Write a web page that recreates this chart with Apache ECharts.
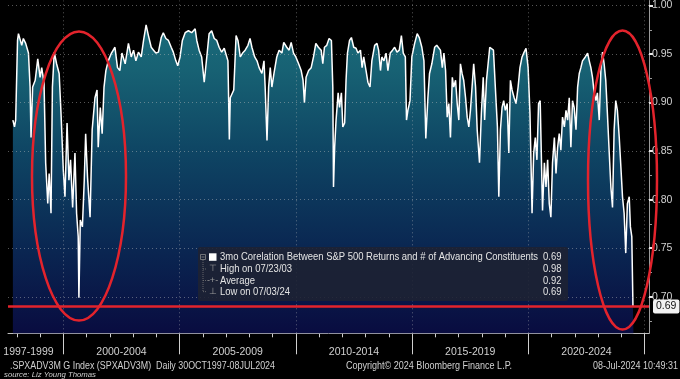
<!DOCTYPE html>
<html><head><meta charset="utf-8">
<script src="https://cdn.jsdelivr.net/npm/echarts@6/dist/echarts.min.js"></script>
<style>html,body{margin:0;padding:0;background:#000;}#c{width:680px;height:379px;}</style>
</head><body><div id="c"></div>
<script>
// ---- data (decimal years, correlation values) ----
const years = [
1997.83,1997.90,1997.95,1998.03,1998.07,1998.21,1998.28,1998.38,1998.50,1998.57,1998.61,1998.68,1998.79,1998.90,1999.00,1999.07,1999.17,1999.24,1999.33,1999.39,1999.47,1999.53,1999.61,1999.71,1999.82,1999.90,2000.00,2000.07,2000.16,2000.24,2000.31,2000.40,2000.50,2000.57,2000.64,2000.67,2000.73,2000.82,2000.90,2000.96,2001.04,2001.15,2001.24,2001.36,2001.45,2001.50,2001.59,2001.67,2001.75,2001.83,2001.93,2002.07,2002.22,2002.33,
2002.43,2002.52,2002.66,2002.80,2002.92,2003.02,2003.12,2003.23,2003.35,2003.45,2003.56,2003.66,2003.78,2003.88,2003.98,2004.09,2004.21,2004.30,2004.41,2004.52,2004.64,2004.73,2004.84,2004.92,2005.02,2005.12,2005.24,2005.38,2005.52,2005.67,2005.74,2005.84,2005.95,2006.06,2006.17,2006.27,2006.38,2006.49,2006.60,2006.70,2006.81,2006.92,
2006.97,2007.08,2007.14,2007.18,2007.25,2007.33,2007.43,2007.51,2007.61,2007.71,2007.82,2007.94,2008.03,2008.11,2008.23,2008.33,2008.42,2008.54,2008.63,2008.68,2008.76,2008.83,2008.90,2008.97,2009.06,2009.18,2009.28,2009.40,2009.48,2009.61,2009.71,2009.80,2009.90,2010.00,2010.12,2010.23,2010.31,2010.37,2010.44,2010.55,2010.66,2010.76,2010.86,2010.97,2011.09,2011.16,2011.23,2011.33,2011.43,2011.53,
2011.59,2011.62,2011.67,2011.73,2011.82,2011.88,2011.96,2012.02,2012.10,2012.16,2012.22,2012.31,2012.39,2012.49,2012.59,2012.67,2012.78,2012.85,2012.92,2013.02,2013.10,2013.19,2013.27,2013.39,2013.49,2013.56,2013.64,2013.70,2013.79,2013.88,2013.96,2014.06,2014.16,2014.25,2014.35,2014.45,2014.54,2014.62,2014.71,2014.76,2014.82,2014.91,2014.99,2015.11,2015.22,2015.31,2015.42,2015.51,2015.59,2015.68,2015.75,2015.85,2015.97,2016.06,
2016.12,2016.22,2016.30,2016.37,2016.44,2016.51,2016.58,2016.65,2016.73,2016.79,2016.87,2016.94,2017.01,2017.08,2017.15,2017.22,2017.30,2017.37,2017.44,2017.51,2017.58,2017.65,2017.73,2017.80,2017.90,2017.98,2018.06,2018.12,2018.20,2018.27,2018.34,2018.41,2018.50,2018.58,2018.67,2018.73,2018.80,2018.87,2018.94,2019.01,2019.09,2019.16,2019.23,2019.30,2019.39,2019.47,2019.56,2019.64,2019.73,2019.82,2019.90,2019.99,2020.07,2020.16,2020.23,2020.30,2020.37,2020.44,2020.51,
2020.61,2020.69,2020.76,2020.83,2020.90,2020.97,2021.04,2021.12,2021.19,2021.26,2021.33,2021.40,2021.47,2021.55,2021.62,2021.69,2021.76,2021.83,2021.90,2021.97,2022.05,2022.12,2022.19,2022.26,2022.33,2022.45,2022.55,2022.62,2022.69,2022.76,2022.83,2022.91,2022.97,2023.05,2023.12,2023.19,2023.26,2023.33,2023.40,2023.48,2023.55,2023.62,2023.69,2023.76,2023.83,2023.91,2023.98,2024.05,2024.12,2024.19,2024.26,2024.34,2024.39,2024.45,2024.50,2024.52
];
const corr = [
0.882,0.875,0.882,0.964,0.971,0.959,0.966,0.961,0.951,0.916,0.864,0.916,0.923,0.945,0.926,0.936,0.920,0.838,0.796,0.827,0.786,0.916,0.952,0.940,0.930,0.889,0.830,0.803,0.879,0.820,0.841,0.792,0.848,0.786,0.762,0.699,0.779,0.772,0.820,0.868,0.823,0.782,0.872,0.905,0.913,0.854,0.895,0.868,0.916,0.933,0.943,0.951,0.957,0.936,
0.933,0.951,0.940,0.961,0.947,0.954,0.943,0.952,0.947,0.964,0.980,0.969,0.957,0.954,0.951,0.952,0.967,0.972,0.966,0.964,0.957,0.952,0.943,0.938,0.947,0.964,0.972,0.974,0.972,0.976,0.964,0.954,0.947,0.921,0.947,0.971,0.974,0.966,0.964,0.957,0.952,0.956,
0.954,0.943,0.862,0.905,0.905,0.913,0.969,0.964,0.947,0.951,0.954,0.959,0.966,0.957,0.947,0.943,0.936,0.930,0.943,0.916,0.861,0.916,0.936,0.916,0.930,0.947,0.954,0.951,0.962,0.957,0.954,0.962,0.951,0.947,0.940,0.933,0.923,0.900,0.926,0.933,0.936,0.947,0.961,0.957,0.954,0.940,0.957,0.959,0.966,0.964,
0.916,0.813,0.854,0.882,0.910,0.895,0.910,0.875,0.879,0.923,0.951,0.964,0.967,0.957,0.956,0.951,0.954,0.936,0.947,0.933,0.921,0.916,0.943,0.959,0.961,0.954,0.933,0.947,0.943,0.951,0.933,0.951,0.954,0.957,0.952,0.954,0.969,0.951,0.947,0.882,0.892,0.902,0.947,0.961,0.971,0.967,0.957,0.943,0.863,0.905,0.930,0.940,0.957,0.959,
0.961,0.954,0.936,0.951,0.933,0.885,0.899,0.864,0.926,0.916,0.923,0.899,0.882,0.940,0.930,0.923,0.905,0.885,0.875,0.892,0.916,0.940,0.916,0.872,0.838,0.889,0.926,0.882,0.923,0.940,0.957,0.959,0.954,0.916,0.875,0.803,0.872,0.895,0.902,0.892,0.899,0.848,0.923,0.913,0.905,0.899,0.916,0.936,0.947,0.952,0.956,0.936,0.889,0.786,0.848,0.864,0.841,0.899,0.902,
0.789,0.838,0.813,0.841,0.796,0.782,0.838,0.864,0.827,0.854,0.868,0.851,0.885,0.875,0.892,0.882,0.905,0.854,0.902,0.895,0.872,0.916,0.930,0.936,0.943,0.947,0.951,0.943,0.936,0.926,0.910,0.902,0.910,0.882,0.933,0.952,0.940,0.923,0.889,0.848,0.813,0.792,0.872,0.902,0.892,0.864,0.834,0.803,0.786,0.745,0.796,0.803,0.772,0.762,0.690,0.690
];
const lastValue = 0.69;
const rangeLabels = ['1997-1999','2000-2004','2005-2009','2010-2014','2015-2019','2020-2024'];
const rangeMids = [1998.5, 2002.5, 2007.5, 2012.5, 2017.5, 2022.5];
const rangeBounds = [2000, 2005, 2010, 2015, 2020, 2025];
const yearTicks = [1998,1999,2000,2001,2002,2003,2004,2005,2006,2007,2008,2009,2010,2011,2012,2013,2014,2015,2016,2017,2018,2019,2020,2021,2022,2023,2024,2025];
const yTicks = [0.70, 0.75, 0.80, 0.85, 0.90, 0.95, 1.00];
const yMinor = [0.675, 0.725, 0.775, 0.825, 0.875, 0.925, 0.975];
const legendLabels = ['3mo Corelation Between S&P 500 Returns and # of Advancing Constituents', 'High on 07/23/03', 'Average', 'Low on 07/03/24'];
const legendValues = ['0.69', '0.98', '0.92', '0.69'];

const FONT = "'Liberation Sans', Arial, sans-serif";
const XMIN = 1997.62, XMAX = 2025.19, YMIN = 0.6624, YMAX = 1.0051;

const mctx = document.createElement('canvas').getContext('2d');
function fitScale(text, font, targetW) { mctx.font = font; return targetW / mctx.measureText(text).width; }

const chart = echarts.init(document.getElementById('c'), null, {renderer: 'canvas'});
const seriesData = years.map((y, i) => [y, corr[i]]);

const legendRowY = [257.3, 269, 280.5, 291.7];
const LFONT = '11px ' + FONT;
const legScale = fitScale(legendLabels[0], LFONT, 318);
const graphics = [];
graphics.push({type: 'rect', z: 50, shape: {x: 198, y: 247, width: 370, height: 54, r: 2}, style: {fill: 'rgba(30,34,50,0.88)'}});
graphics.push({type: 'rect', z: 51, shape: {x: 209, y: 253.3, width: 7.5, height: 7.5}, style: {fill: '#ffffff'}});
graphics.push({type: 'rect', z: 51, shape: {x: 200.5, y: 254.5, width: 5, height: 5}, style: {fill: 'none', stroke: '#888', lineWidth: 0.8}});
graphics.push({type: 'line', z: 51, shape: {x1: 201.5, y1: 257, x2: 204.5, y2: 257}, style: {stroke: '#888', lineWidth: 0.8}});
graphics.push({type: 'line', z: 51, shape: {x1: 203, y1: 260, x2: 203, y2: 292}, style: {stroke: '#777', lineWidth: 0.8, lineDash: [1, 1]}});
[269, 280.5, 291.7].forEach(y => {
  graphics.push({type: 'line', z: 51, shape: {x1: 203, y1: y, x2: 207, y2: y}, style: {stroke: '#777', lineWidth: 0.8, lineDash: [1, 1]}});
});
const glyphs = ['⊤', '-+-', '⊥'];
glyphs.forEach((g, i) => {
  graphics.push({type: 'text', z: 51, style: {text: g, x: 212.5, y: legendRowY[i + 1], fill: '#9a9a9a', font: '9px ' + FONT, textAlign: 'center', textVerticalAlign: 'middle'}});
});
legendLabels.forEach((t, i) => {
  graphics.push({type: 'text', z: 51, x: 220, y: legendRowY[i], scaleX: legScale, style: {text: t, x: 0, y: 0, fill: '#e4e4e4', font: LFONT, textAlign: 'left', textVerticalAlign: 'middle'}});
  graphics.push({type: 'text', z: 51, x: 561.5, y: legendRowY[i], scaleX: legScale, style: {text: legendValues[i], x: 0, y: 0, fill: '#e4e4e4', font: LFONT, textAlign: 'right', textVerticalAlign: 'middle'}});
});
// footer
const FFONT = '10.5px ' + FONT;
const footer = [
  {t: '.SPXADV3M G Index (SPXADV3M)  Daily 30OCT1997-08JUL2024', x: 10, w: 265, a: 'left'},
  {t: 'Copyright© 2024 Bloomberg Finance L.P.', x: 346, w: 166, a: 'left'},
  {t: '08-Jul-2024 10:49:31', x: 678, w: 85, a: 'right'}
];
footer.forEach(f => {
  graphics.push({type: 'text', z: 51, x: f.x, y: 366, scaleX: fitScale(f.t, FFONT, f.w), style: {text: f.t, x: 0, y: 0, fill: '#d0d0d0', font: FFONT, textAlign: f.a, textVerticalAlign: 'middle'}});
});
const SFONT = 'italic 8px ' + FONT;
graphics.push({type: 'text', z: 51, x: 4, y: 374.5, scaleX: fitScale('source: Liz Young Thomas', SFONT, 92), style: {text: 'source: Liz Young Thomas', x: 0, y: 0, fill: '#d0d0d0', font: SFONT, textAlign: 'left', textVerticalAlign: 'middle'}});
// red hand-drawn ellipses
graphics.push({type: 'ellipse', z: 100, shape: {cx: 79, cy: 176, rx: 47, ry: 144.5}, style: {fill: 'none', stroke: '#e3232c', lineWidth: 2.5}});
graphics.push({type: 'ellipse', z: 100, shape: {cx: 622.5, cy: 180, rx: 34.5, ry: 149.5}, style: {fill: 'none', stroke: '#e3232c', lineWidth: 2.5}});

const option = {
  animation: false,
  backgroundColor: '#000',
  textStyle: {fontFamily: FONT},
  grid: {left: 8, right: 31, top: 0, bottom: 45.7},
  xAxis: [
    {type: 'value', min: XMIN, max: XMAX, position: 'bottom',
     axisLine: {show: true, lineStyle: {color: '#bdbdbd', width: 1}},
     axisTick: {show: true, customValues: yearTicks, length: 4, lineStyle: {color: '#cfcfcf'}},
     axisLabel: {show: false}, splitLine: {show: false}},
    {type: 'value', min: XMIN, max: XMAX, position: 'bottom',
     axisLine: {show: false},
     axisTick: {show: true, customValues: rangeBounds, length: 21, lineStyle: {color: '#cfcfcf'}},
     axisLabel: {show: true, customValues: rangeMids, margin: 13, color: '#d0d0d0', fontSize: 10.5, fontFamily: FONT,
       formatter: v => { let k = 0, d = 1e9; rangeMids.forEach((m, i) => { if (Math.abs(m - v) < d) { d = Math.abs(m - v); k = i; } }); return rangeLabels[k]; }},
     splitLine: {show: false}}
  ],
  yAxis: [
    {type: 'value', min: YMIN, max: YMAX, position: 'right',
     axisLine: {show: true, lineStyle: {color: '#9a9a9a'}},
     axisTick: {show: true, customValues: yTicks, length: 4, lineStyle: {color: '#e8e8e8', width: 2}},
     axisLabel: {show: true, customValues: yTicks, margin: 3, color: '#d0d0d0', fontSize: 10.5, fontFamily: FONT, formatter: v => v.toFixed(2)},
     splitLine: {show: false}},
    {type: 'value', min: YMIN, max: YMAX, position: 'right',
     axisLine: {show: false},
     axisTick: {show: true, customValues: yMinor, length: 3, lineStyle: {color: '#9a9a9a'}},
     axisLabel: {show: false}, splitLine: {show: false}}
  ],
  series: [
    {type: 'line', name: 'corr', xAxisIndex: 0, yAxisIndex: 0, data: seriesData, showSymbol: false, symbol: 'none', z: 2,
     lineStyle: {color: '#ffffff', width: 1.5},
     areaStyle: {opacity: 1, color: new echarts.graphic.LinearGradient(0, 0, 0, 1, [
       {offset: 0, color: '#1a6b7b'}, {offset: 0.15, color: '#176173'}, {offset: 0.42, color: '#0e4463'},
       {offset: 0.72, color: '#0a2752'}, {offset: 1, color: '#090c40'}])},
     markLine: {silent: true, symbol: 'none', z: 5,
       lineStyle: {color: '#e3232c', width: 2.5, type: 'solid'},
       label: {show: true, position: 'end', distance: 4, formatter: lastValue.toFixed(2), color: '#111', backgroundColor: '#f2f2f2', padding: [2, 3, 1, 3], borderRadius: 2, fontSize: 10.5, fontFamily: FONT},
       data: [{yAxis: lastValue}]}},
    {type: 'line', name: 'grid', xAxisIndex: 0, yAxisIndex: 0, data: [], z: 3, silent: true,
     markLine: {silent: true, symbol: 'none', label: {show: false},
       lineStyle: {color: 'rgba(190,190,190,0.45)', width: 1, type: [1, 3]},
       data: yTicks.map(v => ({yAxis: v})).concat(rangeBounds.map(v => ({xAxis: v})))}}
  ],
  graphic: graphics
};
chart.setOption(option);
</script></body></html>
